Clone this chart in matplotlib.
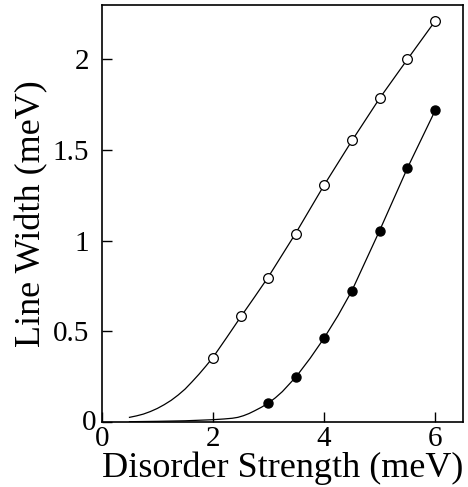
import matplotlib
matplotlib.use("Agg")
import matplotlib.pyplot as plt
from matplotlib.transforms import ScaledTranslation

# measured points
x_open = [2.0, 2.5, 3.0, 3.5, 4.0, 4.5, 5.0, 5.5, 6.0]
y_open = [0.354, 0.581, 0.793, 1.036, 1.309, 1.554, 1.788, 2.004, 2.212]
x_filled = [3.0, 3.5, 4.0, 4.5, 5.0, 5.5, 6.0]
y_filled = [0.101, 0.249, 0.461, 0.719, 1.055, 1.401, 1.718]

# theory curves
x_curve_open = [0.5, 0.625, 0.75, 0.875, 1.0, 1.125, 1.25, 1.375, 1.5, 1.625, 1.75, 1.875, 2.0,
                2.25, 2.5, 2.75, 3.0, 3.5, 4.0, 4.5, 5.0, 5.5, 6.0]
y_curve_open = [0.024, 0.032, 0.042, 0.056, 0.073, 0.094, 0.118, 0.147, 0.180, 0.220, 0.262, 0.307, 0.354,
                0.465, 0.578, 0.688, 0.800, 1.045, 1.305, 1.550, 1.785, 2.000, 2.212]
x_curve_filled = [0.5, 1.0, 1.5, 2.0, 2.2, 2.35, 2.45, 2.55, 2.65, 2.75, 2.875, 3.0, 3.125, 3.25,
                  3.5, 3.75, 4.0, 4.25, 4.5, 5.0, 5.5, 6.0]
y_curve_filled = [0.0, 0.002, 0.005, 0.011, 0.015, 0.019, 0.024, 0.033, 0.045, 0.060, 0.080, 0.103, 0.132, 0.166,
                  0.249, 0.350, 0.461, 0.585, 0.722, 1.055, 1.400, 1.718]

plt.rcParams['font.family'] = ['Liberation Serif', 'DejaVu Serif']

fig = plt.figure(figsize=(4.68, 4.87), dpi=100)
ax = fig.add_axes([0.2173, 0.1341, 0.772, 0.8556])

ax.plot(x_curve_open, y_curve_open, color='black', lw=0.9)
ax.plot(x_curve_filled, y_curve_filled, color='black', lw=0.9)
ax.plot(x_open, y_open, 'o', mfc='white', mec='black', mew=0.9, ms=7)
ax.plot(x_filled, y_filled, 'o', color='black', ms=6.5)

ax.set_xlim(0, 6.5)
ax.set_ylim(0, 2.3)
ax.set_xticks([0, 2, 4, 6])
ax.set_xticklabels(['0', '2', '4', '6'])
ax.set_yticks([0, 0.5, 1, 1.5, 2])
ax.set_yticklabels(['0', '0.5', '1', '1.5', '2'])
ax.tick_params(direction='in', length=7, width=1, labelsize=21, top=False, right=False)
ax.tick_params(axis='x', pad=3)
ax.tick_params(axis='y', pad=9)
for s in ax.spines.values():
    s.set_linewidth(1.2)

# the "0" on the y axis sits a bit closer to the axis in the original
zero_lbl = ax.get_yticklabels()[0]
zero_lbl.set_transform(zero_lbl.get_transform() + ScaledTranslation(0.07, 0.02, fig.dpi_scale_trans))

ax.set_xlabel('Disorder Strength (meV)', fontsize=26, labelpad=0)
ax.set_ylabel('Line Width (meV)', fontsize=26, labelpad=3)

fig.savefig('out.png', dpi=100)
